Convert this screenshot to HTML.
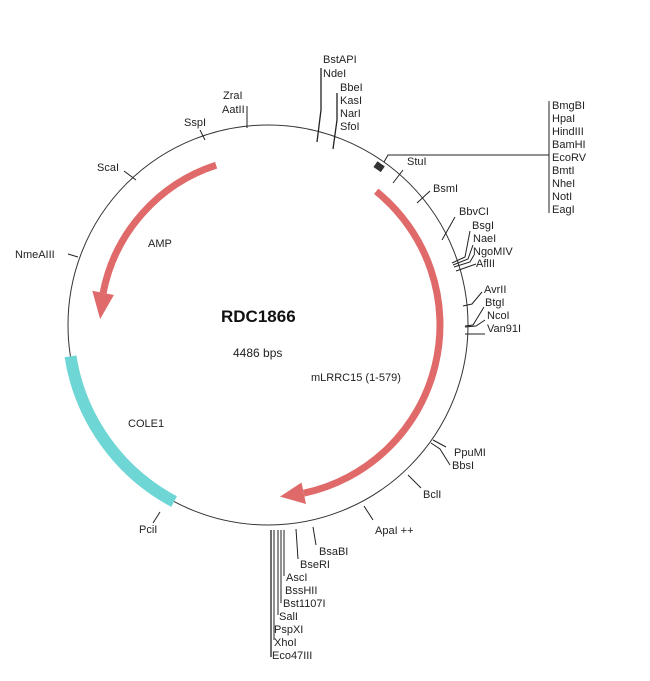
<!DOCTYPE html>
<html><head><meta charset="utf-8"><style>
html,body{margin:0;padding:0;background:#fff;}
svg text{font-family:"Liberation Sans",Arial,sans-serif;font-size:11px;fill:#222;}
</style></head><body>
<svg width="650" height="676" viewBox="0 0 650 676" xmlns="http://www.w3.org/2000/svg">
<circle cx="268" cy="325" r="200" fill="none" stroke="#333" stroke-width="1"/>
<path d="M174.1,501.6 A200,200 0 0 1 70.5,356.3" fill="none" stroke="#6fd6d6" stroke-width="12"/>
<path d="M376.2,191.3 A172,172 0 0 1 303.8,493.2" fill="none" stroke="#e06a6a" stroke-width="7"/>
<polygon points="301.5,482.5 306,504 280,496.6" fill="#e06a6a"/>
<path d="M216.1,165.2 A168,168 0 0 0 103.1,292.9" fill="none" stroke="#e06a6a" stroke-width="7"/>
<polygon points="113.9,295 92.3,290.8 100.1,319.1" fill="#e06a6a"/>
<rect x="375" y="163" width="9" height="7" fill="#333" transform="rotate(35 379 166)"/>
<g stroke="#222" stroke-width="1" fill="none">
<polyline points="384,162 388,155 549,155"/>
<line x1="549" y1="101" x2="549" y2="213"/>
<polyline points="321,68 321,110 317,142" stroke-width="1.3"/>
<polyline points="337,93 337,120 333,149" stroke-width="1.3"/>
<line x1="393" y1="183" x2="403" y2="170"/>
<line x1="417" y1="203" x2="430" y2="191"/>
<line x1="442" y1="240" x2="455" y2="217"/>
<polyline points="452,263 465,257 470,231"/>
<polyline points="453,265 468,259 473,245"/>
<polyline points="454,267 470,262 474,255"/>
<line x1="456" y1="271" x2="476" y2="264"/>
<polyline points="463,306 472,304 482,292"/>
<polyline points="465,326 473,325 484,307"/>
<polyline points="465,327 476,326 485,320"/>
<line x1="465" y1="334" x2="485" y2="334"/>
<polyline points="433,440 446,447"/>
<polyline points="431,443 440,449 450,465"/>
<line x1="408" y1="475" x2="421" y2="488"/>
<line x1="364" y1="506" x2="373" y2="520"/>
<line x1="313" y1="527" x2="316" y2="545"/>
<line x1="296" y1="529" x2="298" y2="559"/>
<line x1="284" y1="530" x2="284" y2="576"/>
<line x1="281" y1="530" x2="281" y2="603"/>
<line x1="278" y1="530" x2="278" y2="615"/>
<line x1="274" y1="530" x2="274" y2="640"/>
<line x1="271" y1="530" x2="271" y2="657" stroke-width="1.3"/>
<line x1="160" y1="512" x2="153" y2="523"/>
<line x1="68" y1="254" x2="78" y2="257"/>
<line x1="124" y1="171" x2="136" y2="180"/>
<line x1="200" y1="130" x2="205" y2="140"/>
<line x1="247" y1="106" x2="247" y2="128"/>
</g>
<text x="323" y="63">BstAPI</text>
<text x="323" y="77">NdeI</text>
<text x="340" y="91">BbeI</text>
<text x="340" y="104">KasI</text>
<text x="340" y="117">NarI</text>
<text x="340" y="130">SfoI</text>
<text x="407" y="165">StuI</text>
<text x="433" y="192">BsmI</text>
<text x="552" y="109">BmgBI</text>
<text x="552" y="122">HpaI</text>
<text x="552" y="135">HindIII</text>
<text x="552" y="148">BamHI</text>
<text x="552" y="161">EcoRV</text>
<text x="552" y="174">BmtI</text>
<text x="552" y="187">NheI</text>
<text x="552" y="200">NotI</text>
<text x="552" y="213">EagI</text>
<text x="459" y="215">BbvCI</text>
<text x="472" y="229">BsgI</text>
<text x="473" y="242">NaeI</text>
<text x="473" y="255">NgoMIV</text>
<text x="476" y="267">AflII</text>
<text x="484" y="293">AvrII</text>
<text x="485" y="306">BtgI</text>
<text x="487" y="319">NcoI</text>
<text x="487" y="332">Van91I</text>
<text x="454" y="456">PpuMI</text>
<text x="452" y="469">BbsI</text>
<text x="423" y="498">BclI</text>
<text x="375" y="534">ApaI ++</text>
<text x="319" y="555">BsaBI</text>
<text x="300" y="568">BseRI</text>
<text x="286" y="581">AscI</text>
<text x="285" y="594">BssHII</text>
<text x="283" y="607">Bst1107I</text>
<text x="279" y="620">SalI</text>
<text x="274" y="633">PspXI</text>
<text x="274" y="646">XhoI</text>
<text x="272" y="659">Eco47III</text>
<text x="139" y="533">PciI</text>
<text x="15" y="258">NmeAIII</text>
<text x="97" y="171">ScaI</text>
<text x="184" y="126">SspI</text>
<text x="223" y="99">ZraI</text>
<text x="222" y="113">AatII</text>
<text x="221" y="322" style="font-size:17px;font-weight:bold;fill:#111">RDC1866</text>
<text x="233" y="357" style="font-size:12px">4486 bps</text>
<text x="311" y="381">mLRRC15 (1-579)</text>
<text x="148" y="247">AMP</text>
<text x="128" y="427">COLE1</text>
</svg>
</body></html>
